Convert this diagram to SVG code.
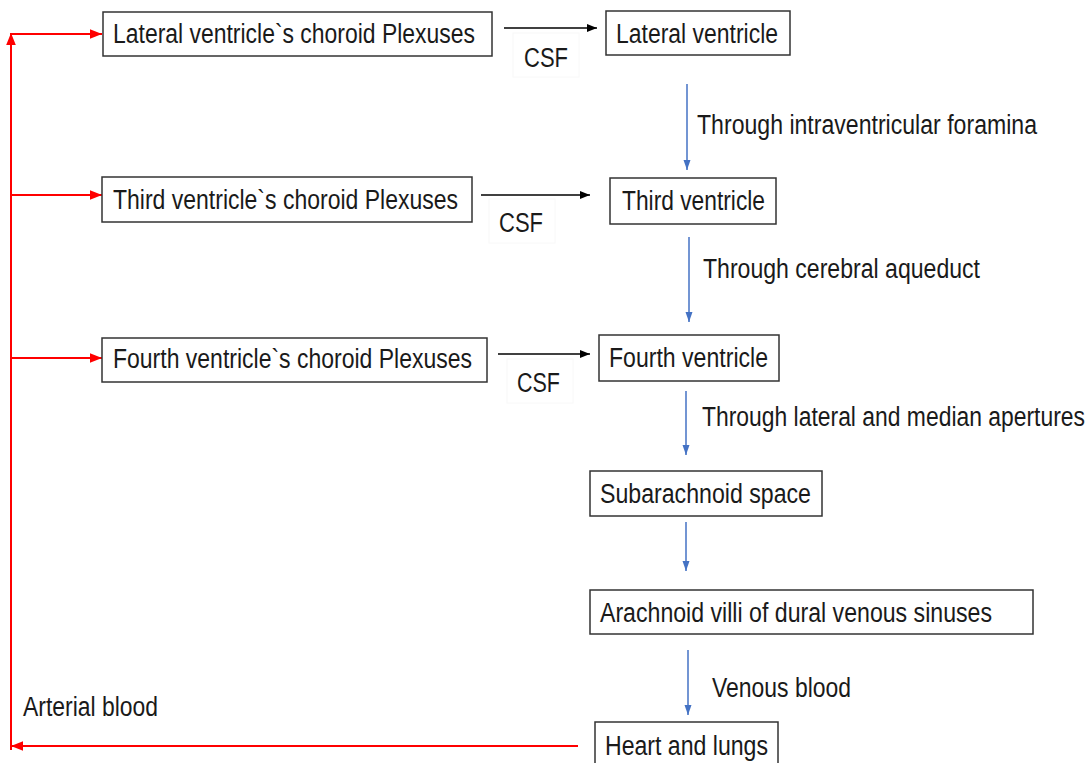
<svg xmlns="http://www.w3.org/2000/svg" width="1091" height="763" viewBox="0 0 1091 763">
<style>
.box{fill:#fff;stroke:#333;stroke-width:1.5}
.t{font-family:"Liberation Sans",Arial,sans-serif;font-size:27px;fill:#1a1a1a}
.red{stroke:#ff0000;stroke-width:2;fill:none}
.blk{stroke:#000;stroke-width:1.3;fill:none}
.blue{stroke:#4472c4;stroke-width:1.5;fill:none}
.csfbg{fill:#fff;stroke:#f8f8f8;stroke-width:1}
</style>
<defs>
<marker id="ar" markerUnits="userSpaceOnUse" markerWidth="12" markerHeight="12" viewBox="0 0 10 10" refX="10" refY="5" orient="auto"><path d="M0,1 L10,5 L0,9 Z" fill="#ff0000"/></marker>
<marker id="ak" markerUnits="userSpaceOnUse" markerWidth="10" markerHeight="10" viewBox="0 0 10 10" refX="10" refY="5" orient="auto"><path d="M0,1 L10,5 L0,9 Z" fill="#000"/></marker>
<marker id="ab" markerUnits="userSpaceOnUse" markerWidth="10" markerHeight="10" viewBox="0 0 10 10" refX="10" refY="5" orient="auto"><path d="M0,1.5 L10,5 L0,8.5 Z" fill="#4472c4"/></marker>
</defs>

<g id="csf-labels">
<rect class="csfbg" x="513" y="33" width="66" height="44"/>
<text class="t" x="524" y="67" textLength="44" lengthAdjust="spacingAndGlyphs">CSF</text>
<rect class="csfbg" x="489" y="199" width="66" height="44"/>
<text class="t" x="499" y="232" textLength="44" lengthAdjust="spacingAndGlyphs">CSF</text>
<rect class="csfbg" x="507" y="359" width="66" height="44"/>
<text class="t" x="517" y="392" textLength="43" lengthAdjust="spacingAndGlyphs">CSF</text>
</g>

<g id="connectors">
<path class="red" d="M11,750 L11,33" marker-end="url(#ar)"/>
<path class="red" d="M11,34 L102,34" marker-end="url(#ar)"/>
<path class="red" d="M11,195 L102,195" marker-end="url(#ar)"/>
<path class="red" d="M11,358 L102,358" marker-end="url(#ar)"/>
<path class="red" d="M578,746 L11,746" marker-end="url(#ar)"/>
<path class="blk" d="M504,28 L597,28" marker-end="url(#ak)"/>
<path class="blk" d="M481,195 L590,195" marker-end="url(#ak)"/>
<path class="blk" d="M498,354 L590,354" marker-end="url(#ak)"/>
<path class="blue" d="M687,84 L687,170" marker-end="url(#ab)"/>
<path class="blue" d="M689,237 L689,322" marker-end="url(#ab)"/>
<path class="blue" d="M686,391 L686,455" marker-end="url(#ab)"/>
<path class="blue" d="M686,522 L686,571" marker-end="url(#ab)"/>
<path class="blue" d="M688,650 L688,715" marker-end="url(#ab)"/>
</g>

<g id="edge-labels">
<text class="t" x="697" y="134" textLength="340" lengthAdjust="spacingAndGlyphs">Through intraventricular foramina</text>
<text class="t" x="703" y="278" textLength="277" lengthAdjust="spacingAndGlyphs">Through cerebral aqueduct</text>
<text class="t" x="702" y="426" textLength="383" lengthAdjust="spacingAndGlyphs">Through lateral and median apertures</text>
<text class="t" x="712" y="697" textLength="139" lengthAdjust="spacingAndGlyphs">Venous blood</text>
<text class="t" x="23" y="716" textLength="135" lengthAdjust="spacingAndGlyphs">Arterial blood</text>
</g>

<g id="lat-plexus">
<rect class="box" x="103" y="12" width="389" height="44"/>
<text class="t" x="113" y="43" textLength="362" lengthAdjust="spacingAndGlyphs">Lateral ventricle`s choroid Plexuses</text>
</g>
<g id="lat-ventricle">
<rect class="box" x="606" y="11" width="184" height="44"/>
<text class="t" x="616" y="43" textLength="162" lengthAdjust="spacingAndGlyphs">Lateral ventricle</text>
</g>
<g id="third-plexus">
<rect class="box" x="102" y="177" width="370" height="45"/>
<text class="t" x="113" y="209" textLength="345" lengthAdjust="spacingAndGlyphs">Third ventricle`s choroid Plexuses</text>
</g>
<g id="third-ventricle">
<rect class="box" x="610" y="178" width="166" height="46"/>
<text class="t" x="622" y="210" textLength="143" lengthAdjust="spacingAndGlyphs">Third ventricle</text>
</g>
<g id="fourth-plexus">
<rect class="box" x="102" y="338" width="385" height="44"/>
<text class="t" x="113" y="368" textLength="359" lengthAdjust="spacingAndGlyphs">Fourth ventricle`s choroid Plexuses</text>
</g>
<g id="fourth-ventricle">
<rect class="box" x="599" y="335" width="180" height="46"/>
<text class="t" x="609" y="367" textLength="159" lengthAdjust="spacingAndGlyphs">Fourth ventricle</text>
</g>
<g id="subarachnoid">
<rect class="box" x="590" y="471" width="232" height="45"/>
<text class="t" x="600" y="503" textLength="211" lengthAdjust="spacingAndGlyphs">Subarachnoid space</text>
</g>
<g id="arachnoid-villi">
<rect class="box" x="590" y="590" width="443" height="44"/>
<text class="t" x="600" y="622" textLength="392" lengthAdjust="spacingAndGlyphs">Arachnoid villi of dural venous sinuses</text>
</g>
<g id="heart-lungs">
<rect class="box" x="595" y="722" width="183" height="46"/>
<text class="t" x="605" y="755" textLength="163" lengthAdjust="spacingAndGlyphs">Heart and lungs</text>
</g>
</svg>
